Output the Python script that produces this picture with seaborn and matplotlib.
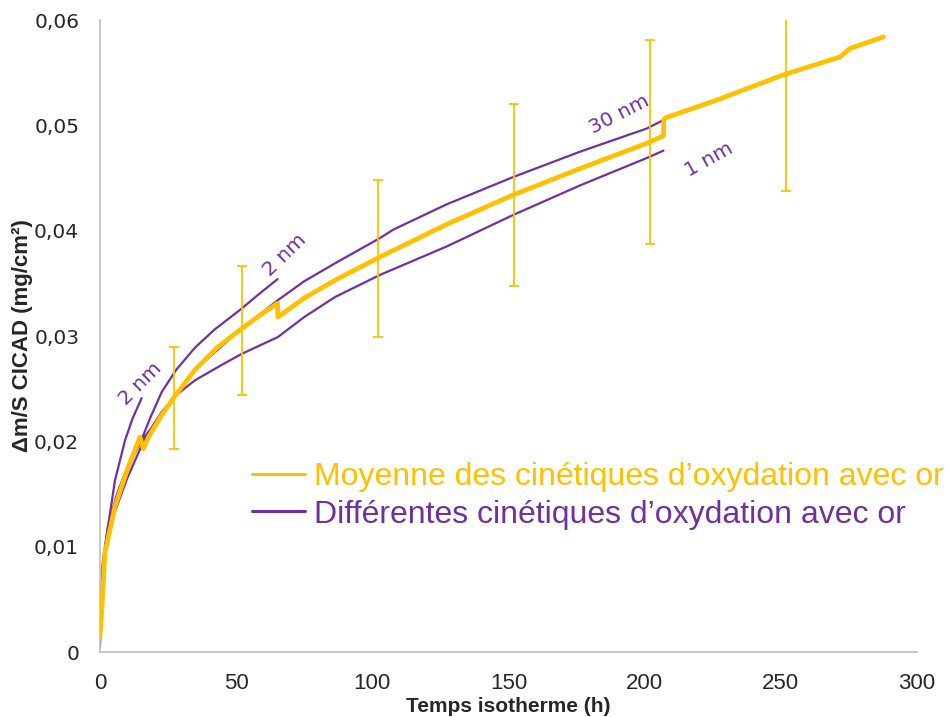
import pandas as pd
import matplotlib
matplotlib.use("Agg")
import matplotlib.pyplot as plt
from matplotlib.lines import Line2D
import seaborn as sns

# isothermal time (h) and mass gain (mg/cm2)
t_2nm_a = [0, 0.5, 1, 2, 3.7, 5.5, 9.2, 12, 15.3]
v_2nm_a = [0.0015, 0.0060, 0.0080, 0.0103, 0.0132, 0.0163, 0.0201, 0.0222, 0.0241]

t_2nm_b = [0, 0.5, 1, 2, 4, 7, 11, 15, 18.4, 22.7, 28, 34.9, 42, 52, 58, 65.2]
v_2nm_b = [0.0015, 0.0050, 0.0075, 0.0095, 0.0125, 0.0155, 0.0180, 0.0200, 0.0222,
           0.0247, 0.0268, 0.0289, 0.0306, 0.0326, 0.0339, 0.0354]

t_30nm = [0, 1, 3, 6, 10, 15, 22.7, 34.9, 52, 65.3, 75, 86.3, 102.8, 107.7, 127.3,
          151.8, 176.3, 200.8, 206.9]
v_30nm = [0.0015, 0.0085, 0.0120, 0.0148, 0.0175, 0.0200, 0.0225, 0.0268, 0.0307,
          0.0334, 0.0352, 0.0369, 0.0393, 0.0401, 0.0425, 0.0451, 0.0475, 0.0497, 0.0505]

t_1nm = [0, 1, 2, 5, 10, 16.5, 22.7, 28, 34.9, 45, 52, 65.3, 75, 86.3, 102.8, 127.3,
         151.8, 176.3, 200.8, 206.9]
v_1nm = [0.0005, 0.0070, 0.0095, 0.0130, 0.0165, 0.0203, 0.0228, 0.0244, 0.0258,
         0.0273, 0.0283, 0.0299, 0.0318, 0.0337, 0.0358, 0.0385, 0.0415, 0.0443,
         0.0469, 0.0476]

t_mean = [0, 0.6, 1.8, 5.5, 10.4, 14.7, 15.9, 18, 22.7, 27.5, 34.9, 43, 52, 60,
          65.2, 65.3, 75, 86.3, 102.8, 127.3, 151.8, 176.3, 200.8, 206.9, 207.0,
          207.5, 226.5, 251, 271.8, 275.4, 287.7]
v_mean = [0.0015, 0.0037, 0.0094, 0.0138, 0.0176, 0.0204, 0.0193, 0.0205, 0.0225,
          0.0243, 0.0268, 0.0289, 0.0307, 0.0322, 0.0331, 0.0318, 0.0336, 0.0353,
          0.0375, 0.0406, 0.0434, 0.0459, 0.0483, 0.0490, 0.0505, 0.0507, 0.0524,
          0.0548, 0.0565, 0.0573, 0.0584]

# error bars: time, low, high
err_t = [27.2, 52, 102.2, 152.2, 202, 252]
err_lo = [0.0193, 0.0244, 0.0299, 0.0347, 0.0387, 0.0438]
err_hi = [0.0290, 0.0366, 0.0448, 0.0520, 0.0581, 0.0658]

curve_labels = ["2 nm", "2 nm", "30 nm", "1 nm"]
label_pos = [(14.7, 0.0255, 45), (68.0, 0.0377, 44), (190.6, 0.0510, 27), (223.7, 0.0467, 29)]

yticks = [0, 0.01, 0.02, 0.03, 0.04, 0.05, 0.06]
ytick_labels = ["0", "0,01", "0,02", "0,03", "0,04", "0,05", "0,06"]
xticks = [0, 50, 100, 150, 200, 250, 300]

yellow = "#FFC000"
purple = "#7030A0"
grey = "#BFBFBF"
arial = ["Liberation Sans", "DejaVu Sans"]

sns.set_style("white")
plt.rcParams["font.family"] = ["DejaVu Sans"]

df_purple = pd.concat([
    pd.DataFrame({"t": t_2nm_a, "v": v_2nm_a, "curve": "a"}),
    pd.DataFrame({"t": t_2nm_b, "v": v_2nm_b, "curve": "b"}),
    pd.DataFrame({"t": t_30nm, "v": v_30nm, "curve": "c"}),
    pd.DataFrame({"t": t_1nm, "v": v_1nm, "curve": "d"}),
])
df_mean = pd.DataFrame({"t": t_mean, "v": v_mean})

fig = plt.figure(figsize=(9.49, 7.17), dpi=100)
ax = fig.add_axes([100 / 949, 65 / 717, 817 / 949, 632 / 717])

sns.lineplot(data=df_purple, x="t", y="v", units="curve", estimator=None,
             sort=False, color=purple, linewidth=1.6, ax=ax, zorder=2)
sns.lineplot(data=df_mean, x="t", y="v", estimator=None, sort=False,
             color=yellow, linewidth=3.4, ax=ax, zorder=3)

centers = [(lo + hi) / 2 for lo, hi in zip(err_lo, err_hi)]
half = [(hi - lo) / 2 for lo, hi in zip(err_lo, err_hi)]
ax.errorbar(err_t, centers, yerr=half, fmt="none", ecolor=yellow,
            elinewidth=1.3, capsize=3.5, capthick=1.3, zorder=4)

for lab, (x, y, rot) in zip(curve_labels, label_pos):
    ax.text(x, y, lab, color=purple, fontsize=14.5, rotation=rot,
            ha="center", va="center", rotation_mode="anchor")

ax.set_xlim(0, 300)
ax.set_ylim(0, 0.06)
ax.set_xticks(xticks)
ax.set_xticklabels([str(x) for x in xticks], fontsize=16, family=arial)
ax.set_yticks(yticks)
ax.set_yticklabels(ytick_labels, fontsize=14.5)
ax.tick_params(axis="both", length=7, width=1, color=grey, pad=8)

for side in ["top", "right"]:
    ax.spines[side].set_visible(False)
for side in ["left", "bottom"]:
    ax.spines[side].set_color(grey)
    ax.spines[side].set_linewidth(1.2)

ax.set_xlabel("Temps isotherme (h)", fontsize=15, fontweight="bold",
              family=arial, labelpad=2)
ax.set_ylabel("\u0394m/S CICAD (mg/cm\u00b2)", fontsize=16, fontweight="bold",
              family=arial, labelpad=1)

handles = [Line2D([], [], color=yellow, lw=2.2), Line2D([], [], color=purple, lw=2.2)]
leg = fig.legend(handles,
                 ["Moyenne des cinétiques d\u2019oxydation avec or",
                  "Différentes cinétiques d\u2019oxydation avec or"],
                 loc="upper left", bbox_to_anchor=(252 / 949, 1 - 462 / 717),
                 frameon=False, prop={"family": arial, "size": 23},
                 handlelength=1.65, handletextpad=0.3, labelspacing=0.24,
                 borderpad=0, borderaxespad=0)
for txt, c in zip(leg.get_texts(), [yellow, purple]):
    txt.set_color(c)

fig.savefig("out.png", dpi=100)
